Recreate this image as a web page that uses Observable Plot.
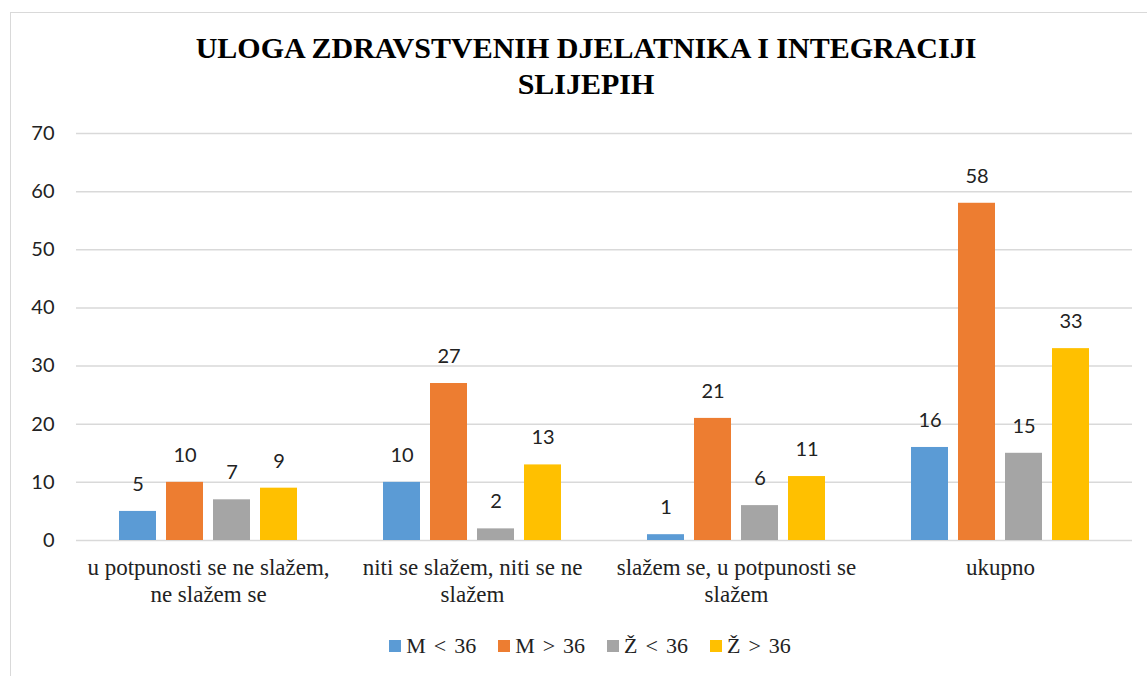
<!DOCTYPE html>
<html>
<head>
<meta charset="utf-8">
<script src="https://cdn.jsdelivr.net/npm/d3@7"></script>
<script src="https://cdn.jsdelivr.net/npm/@observablehq/plot@0.6"></script>
<style>
  html, body { margin: 0; padding: 0; background: #fff; }
  #page { position: relative; width: 1147px; height: 676px; overflow: hidden; }
  #frame { position: absolute; left: 10px; top: 12px; width: 1150px; height: 680px; border: 1px solid #d9d9d9; box-sizing: border-box; }
  #title { position: absolute; left: 0; top: 30px; width: 1172px; text-align: center;
    font-family: "Liberation Serif", "Times New Roman", serif; font-weight: bold; font-size: 30px; line-height: 36px; color: #000; }
  #chart { position: absolute; left: 0; top: 110px; }
  #legend { position: absolute; top: 633px; left: 0; width: 1180px; display: flex; justify-content: center;
    font-family: "Liberation Serif", "Times New Roman", serif; font-size: 22px; color: #222; word-spacing: 2.5px; }
  .item { display: flex; align-items: center; margin: 0 11px; }
  .sw { width: 12px; height: 12px; margin-right: 5px; }
  #preload { position: absolute; left: -9999px; top: 0; font-family: "Liberation Serif"; font-size: 23px; }
  #preload2 { position: absolute; left: -9999px; top: 0; font-family: "Lato"; font-size: 20px; }
</style>
</head>
<body>
<div id="preload">u potpunosti se ne slažem 0123456789</div>
<div id="preload2">0123456789</div>
<div id="page">
  <div id="frame"></div>
  <div id="title">ULOGA ZDRAVSTVENIH DJELATNIKA I INTEGRACIJI<br>SLIJEPIH</div>
  <div id="chart"></div>
  <div id="legend"></div>
</div>
<script>
const categories = [
  "u potpunosti se ne slažem, ne slažem se",
  "niti se slažem, niti se ne slažem",
  "slažem se, u potpunosti se slažem",
  "ukupno"
];
const categoryLabels = [
  "u potpunosti se ne slažem,\nne slažem se",
  "niti se slažem, niti se ne\nslažem",
  "slažem se, u potpunosti se\nslažem",
  "ukupno"
];
const seriesNames = ["M < 36", "M > 36", "Ž < 36", "Ž > 36"];
const mUnder36 = [5, 10, 1, 16];
const mOver36 = [10, 27, 21, 58];
const zUnder36 = [7, 2, 6, 15];
const zOver36 = [9, 13, 11, 33];
const seriesColors = ["#5B9BD5", "#ED7D31", "#A5A5A5", "#FFC000"];
const yTicks = [0, 10, 20, 30, 40, 50, 60, 70];

const seriesValues = [mUnder36, mOver36, zUnder36, zOver36];
const rows = [];
categories.forEach((c, i) => {
  seriesNames.forEach((s, j) => {
    rows.push({category: c, series: s, value: seriesValues[j][i]});
  });
});

const legend = document.getElementById("legend");
seriesNames.forEach((s, i) => {
  const item = document.createElement("div");
  item.className = "item";
  const sw = document.createElement("span");
  sw.className = "sw";
  sw.style.background = seriesColors[i];
  const t = document.createElement("span");
  t.textContent = s;
  item.appendChild(sw);
  item.appendChild(t);
  legend.appendChild(item);
});

function render() {
  const chart = Plot.plot({
    width: 1147,
    height: 510,
    marginLeft: 74,
    marginRight: 14,
    marginTop: 23,
    marginBottom: 80,
    fx: {domain: categories, padding: 0, label: null},
    x: {domain: seriesNames, paddingInner: 0.208, paddingOuter: 0.862, axis: null},
    y: {domain: [0, 70], axis: null},
    color: {domain: seriesNames, range: seriesColors},
    marks: [
      Plot.ruleY(yTicks, {y: d => d, stroke: "#d9d9d9", strokeWidth: 1.5, strokeOpacity: 1}),
      Plot.barY(rows, {fx: "category", x: "series", y: "value", fill: "series"}),
      Plot.text(rows, {fx: "category", x: "series", y: "value", text: d => String(d.value),
        dy: -27, fontSize: 20, fill: "#222", lineAnchor: "middle", fontFamily: "Lato"}),
      Plot.axisY({ticks: yTicks, tickSize: 0, tickPadding: 22, fontSize: 20, fill: "#222",
        label: null, fontFamily: "Lato"}),
      Plot.axisFx({anchor: "bottom", tickSize: 0, tickPadding: 16, fontSize: 23,
        fill: "#222", label: null, lineHeight: 1.15, fontFamily: "Liberation Serif",
        tickFormat: d => categoryLabels[categories.indexOf(d)]})
    ]
  });
  const holder = document.getElementById("chart");
  holder.innerHTML = "";
  holder.appendChild(chart);
  chart.querySelectorAll("text").forEach(el => {
    const isNum = /^\s*\d+\s*$/.test(el.textContent);
    el.style.fontFamily = isNum ? "Lato" : "'Liberation Serif'";
    getComputedStyle(el).fontFamily;
  });
}
render();
if (document.fonts && document.fonts.load) {
  Promise.all([
    document.fonts.load("23px 'Liberation Serif'", "u potpunosti slažem"),
    document.fonts.load("20px Lato", "0123456789")
  ]).then(render, render);
  document.fonts.ready.then(render);
}
window.addEventListener("load", render);
</script>
</body>
</html>
